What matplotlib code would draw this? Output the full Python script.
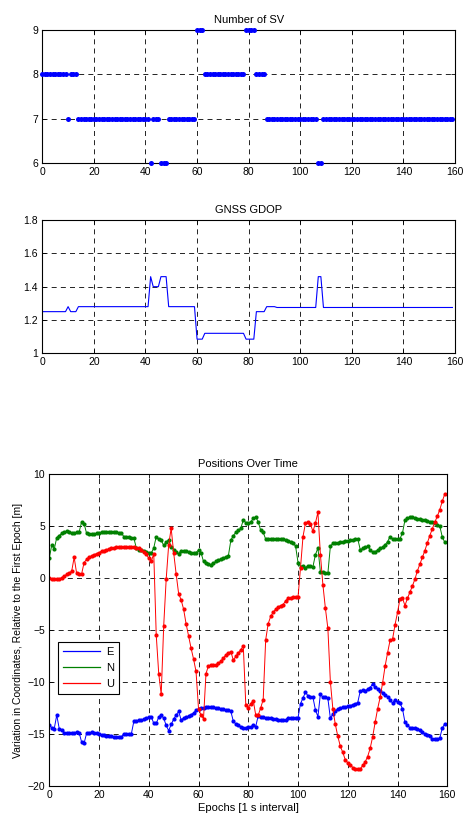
import matplotlib

matplotlib.use("Agg")
import matplotlib.pyplot as plt
from matplotlib.lines import Line2D
import numpy as np

plt.rcParams["font.family"] = ["Liberation Sans", "DejaVu Sans"]
plt.rcParams["font.size"] = 7.5

# epochs 0..159, one solution per second
EPOCHS = np.arange(160)

SV_COUNT = [
    8, 8, 8, 8, 8, 8, 8, 8, 8, 8, 7, 8, 8, 8, 7, 7, 7, 7, 7, 7,
    7, 7, 7, 7, 7, 7, 7, 7, 7, 7, 7, 7, 7, 7, 7, 7, 7, 7, 7, 7,
    7, 7, 6, 7, 7, 7, 6, 6, 6, 7, 7, 7, 7, 7, 7, 7, 7, 7, 7, 7,
    9, 9, 9, 8, 8, 8, 8, 8, 8, 8, 8, 8, 8, 8, 8, 8, 8, 8, 8, 9,
    9, 9, 9, 8, 8, 8, 8, 7, 7, 7, 7, 7, 7, 7, 7, 7, 7, 7, 7, 7,
    7, 7, 7, 7, 7, 7, 7, 6, 6, 7, 7, 7, 7, 7, 7, 7, 7, 7, 7, 7,
    7, 7, 7, 7, 7, 7, 7, 7, 7, 7, 7, 7, 7, 7, 7, 7, 7, 7, 7, 7,
    7, 7, 7, 7, 7, 7, 7, 7, 7, 7, 7, 7, 7, 7, 7, 7, 7, 7, 7, 7,
]

GDOP = [
    1.25, 1.25, 1.25, 1.25, 1.25, 1.25, 1.25, 1.25, 1.25, 1.25,
    1.28, 1.25, 1.25, 1.25, 1.28, 1.28, 1.28, 1.28, 1.28, 1.28,
    1.28, 1.28, 1.28, 1.28, 1.28, 1.28, 1.28, 1.28, 1.28, 1.28,
    1.28, 1.28, 1.28, 1.28, 1.28, 1.28, 1.28, 1.28, 1.28, 1.28,
    1.28, 1.28, 1.46, 1.40, 1.40, 1.40, 1.46, 1.46, 1.46, 1.28,
    1.28, 1.28, 1.28, 1.28, 1.28, 1.28, 1.28, 1.28, 1.28, 1.28,
    1.085, 1.085, 1.085, 1.12, 1.12, 1.12, 1.12, 1.12, 1.12, 1.12,
    1.12, 1.12, 1.12, 1.12, 1.12, 1.12, 1.12, 1.12, 1.12, 1.085,
    1.085, 1.085, 1.085, 1.25, 1.25, 1.25, 1.25, 1.28, 1.28, 1.28,
    1.28, 1.275, 1.275, 1.275, 1.275, 1.275, 1.275, 1.275, 1.275, 1.275,
    1.275, 1.275, 1.275, 1.275, 1.275, 1.275, 1.275, 1.46, 1.46, 1.275,
    1.275, 1.275, 1.275, 1.275, 1.275, 1.275, 1.275, 1.275, 1.275, 1.275,
    1.275, 1.275, 1.275, 1.275, 1.275, 1.275, 1.275, 1.275, 1.275, 1.275,
    1.275, 1.275, 1.275, 1.275, 1.275, 1.275, 1.275, 1.275, 1.275, 1.275,
    1.275, 1.275, 1.275, 1.275, 1.275, 1.275, 1.275, 1.275, 1.275, 1.275,
    1.275, 1.275, 1.275, 1.275, 1.275, 1.275, 1.275, 1.275, 1.275, 1.275,
]

# position change relative to first epoch [m]
EAST = [
    -14.2, -14.4, -14.5, -13.2, -14.5, -14.6, -14.9, -14.95, -14.95, -14.9,
    -14.9, -14.85, -14.9, -15.8, -15.9, -14.95, -14.9, -14.85, -14.9, -14.95,
    -15.05, -15.1, -15.1, -15.2, -15.25, -15.25, -15.3, -15.35, -15.35, -15.3,
    -15.0, -15.05, -15.0, -15.0, -13.8, -13.75, -13.7, -13.65, -13.6, -13.5,
    -13.4, -13.35, -14.0, -14.0, -13.4, -13.2, -13.5, -14.2, -14.7, -14.1,
    -13.6, -13.2, -12.85, -13.65, -13.5, -13.4, -13.3, -13.15, -13.0, -12.75,
    -12.65, -12.55, -12.5, -12.45, -12.45, -12.4, -12.45, -12.5, -12.55, -12.6,
    -12.65, -12.7, -12.75, -12.85, -13.8, -14.05, -14.2, -14.3, -14.4, -14.45,
    -14.35, -14.35, -14.2, -14.3, -13.25, -13.35, -13.4, -13.45, -13.5, -13.5,
    -13.55, -13.6, -13.65, -13.65, -13.65, -13.65, -13.45, -13.45, -13.45, -13.45,
    -13.45, -12.1, -11.55, -11.0, -11.35, -11.45, -11.5, -12.7, -13.35, -11.15,
    -11.5, -11.5, -11.6, -13.5, -13.1, -12.8, -12.6, -12.5, -12.45, -12.4,
    -12.35, -12.3, -12.2, -12.1, -12.0, -10.9, -10.8, -10.85, -10.7, -10.55,
    -10.2, -10.45, -10.65, -10.85, -11.05, -11.25, -11.45, -11.7, -12.05, -11.7,
    -11.9, -12.05, -12.6, -13.9, -14.2, -14.4, -14.45, -14.45, -14.55, -14.65,
    -14.85, -15.0, -15.1, -15.25, -15.5, -15.55, -15.5, -15.4, -14.45, -14.05,
]

NORTH = [
    1.9, 3.2, 2.8, 3.9, 4.1, 4.3, 4.45, 4.5, 4.4, 4.3,
    4.35, 4.4, 4.45, 5.4, 5.25, 4.3, 4.25, 4.2, 4.25, 4.3,
    4.35, 4.4, 4.45, 4.45, 4.45, 4.45, 4.4, 4.4, 4.35, 4.3,
    4.0, 4.0, 3.95, 3.9, 3.85, 2.9, 2.75, 2.7, 2.6, 2.5,
    2.45, 2.4, 2.9, 4.0, 3.75, 3.65, 3.15, 3.45, 3.7, 3.0,
    2.75, 2.55, 2.35, 2.65, 2.65, 2.6, 2.55, 2.45, 2.4, 2.45,
    2.7, 2.45, 1.6, 1.45, 1.4, 1.3, 1.45, 1.6, 1.75, 1.85,
    1.95, 2.05, 2.15, 3.65, 4.1, 4.4, 4.6, 4.8, 5.6, 5.35,
    5.3, 5.4, 5.75, 5.9, 5.4, 4.6, 4.4, 3.75, 3.75, 3.8,
    3.8, 3.8, 3.8, 3.8, 3.75, 3.7, 3.55, 3.45, 3.35, 3.1,
    1.5, 1.1, 1.2, 1.0, 1.2, 1.2, 1.1, 2.25, 2.9, 0.6,
    0.55, 0.5, 0.45, 3.05, 3.35, 3.4, 3.4, 3.45, 3.5, 3.55,
    3.6, 3.65, 3.7, 3.75, 3.8, 2.75, 2.85, 2.95, 3.05, 2.75,
    2.5, 2.55, 2.7, 2.85, 3.0, 3.2, 3.5, 4.0, 3.75, 3.75,
    3.75, 3.8, 4.35, 5.6, 5.75, 5.85, 5.85, 5.8, 5.7, 5.7,
    5.6, 5.6, 5.5, 5.45, 5.4, 5.3, 5.15, 5.0, 3.95, 3.45,
]

UP = [
    0.0, -0.05, -0.1, -0.05, -0.1, 0.05, 0.2, 0.35, 0.5, 0.65,
    2.0, 0.45, 0.4, 0.4, 1.5, 1.8, 2.0, 2.15, 2.25, 2.35,
    2.45, 2.6, 2.65, 2.75, 2.8, 2.85, 2.9, 2.95, 2.95, 3.0,
    3.0, 3.0, 3.0, 2.95, 2.95, 2.9, 2.85, 2.7, 2.55, 2.3,
    1.9, 1.6, 2.35, -5.5, -9.2, -11.2, -4.6, -0.1, 3.2, 4.8,
    2.45, 0.4, -1.5, -2.1, -3.0, -4.4, -5.6, -6.75, -7.8, -9.0,
    -12.6, -13.2, -13.55, -9.2, -8.45, -8.4, -8.4, -8.35, -8.2, -8.0,
    -7.7, -7.4, -7.2, -7.1, -7.9, -7.55, -7.2, -6.9, -6.55, -12.2,
    -12.5, -12.1, -11.8, -13.2, -13.2, -12.5, -11.7, -5.95, -4.4, -3.7,
    -3.3, -3.0, -2.8, -2.65, -2.55, -2.2, -1.95, -1.9, -1.85, -1.85,
    -1.85, 1.0, 4.0, 5.3, 5.4, 5.2, 4.5, 5.3, 6.35, 2.25,
    -0.65, -2.9, -4.85, -9.97, -12.6, -14.1, -15.25, -16.2, -16.8, -17.5,
    -17.8, -18.0, -18.25, -18.4, -18.4, -18.4, -18.05, -17.7, -17.2, -16.4,
    -15.3, -13.9, -12.6, -11.5, -10.1, -8.5, -7.2, -6.0, -5.9, -4.5,
    -3.3, -2.0, -1.95, -2.65, -1.95, -1.35, -0.75, -0.1, 0.7, 1.35,
    2.0, 2.65, 3.4, 4.1, 4.75, 5.4, 5.95, 6.6, 7.4, 8.1,
]

ENU_LABELS = ["E", "N", "U"]
ENU_COLORS = ["#0000ff", "#008000", "#ff0000"]


def style_axes(ax, yticks, ylim):
    ax.set_xlim(0, 160)
    ax.set_xticks(range(0, 161, 20))
    ax.set_ylim(*ylim)
    ax.set_yticks(yticks)
    ax.grid(True, color="black", linestyle=(0, (6, 5)), linewidth=0.6)
    ax.tick_params(direction="in", top=True, right=True, length=3,
                   width=0.6, labelsize=7.5, pad=3)
    for spine in ax.spines.values():
        spine.set_linewidth(0.8)


def main() -> None:
    fig = plt.figure(figsize=(4.68, 8.19), dpi=100)

    # number of satellites
    ax1 = fig.add_axes([0.0904, 0.801, 0.8818, 0.1624])
    ax1.plot(EPOCHS, SV_COUNT, "o", color="#0000ff", markersize=3.6,
             markeredgewidth=0, clip_on=False, zorder=3)
    style_axes(ax1, [6, 7, 8, 9], (6, 9))
    ax1.set_title("Number of SV", fontsize=8, pad=5)

    # GDOP
    ax2 = fig.add_axes([0.0904, 0.5686, 0.8818, 0.1628])
    ax2.plot(EPOCHS, GDOP, "-", color="#0000ff", linewidth=0.8)
    style_axes(ax2, [1.0, 1.2, 1.4, 1.6, 1.8], (1.0, 1.8))
    ax2.set_yticklabels(["1", "1.2", "1.4", "1.6", "1.8"])
    ax2.set_title("GNSS GDOP", fontsize=8, pad=5)

    # ENU position variation
    ax3 = fig.add_axes([0.1053, 0.0407, 0.8504, 0.3802])
    handles = []
    for values, label, color in zip([EAST, NORTH, UP], ENU_LABELS, ENU_COLORS):
        ax3.plot(EPOCHS, values, "-", color=color, linewidth=0.7)
        ax3.plot(EPOCHS, values, "o", color=color, markersize=3.0,
                 markeredgewidth=0)
        handles.append(Line2D([], [], color=color, linewidth=0.9, label=label))
    style_axes(ax3, range(-20, 11, 5), (-20, 10))
    ax3.set_title("Positions Over Time", fontsize=8, pad=5)
    ax3.set_xlabel("Epochs [1 s interval]", fontsize=8, labelpad=2)
    ax3.set_ylabel("Variation in Coordinates, Relative to the First Epoch [m]",
                   fontsize=7.5, labelpad=3)
    leg = ax3.legend(handles=handles, loc="upper left",
                     bbox_to_anchor=(0.021, 0.462), fontsize=8,
                     handlelength=3.4, handletextpad=0.5, borderaxespad=0,
                     fancybox=False, framealpha=1, edgecolor="black",
                     borderpad=0.45, labelspacing=0.55)
    leg.get_frame().set_linewidth(0.8)

    fig.savefig("out.png", dpi=100)
    plt.close(fig)


if __name__ == "__main__":
    main()
